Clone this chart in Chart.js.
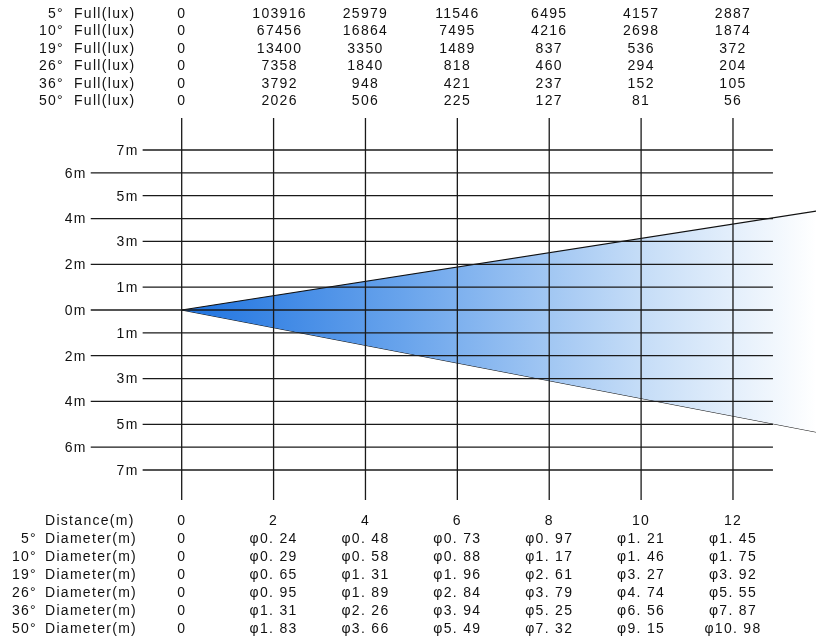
<!DOCTYPE html>
<html lang="en">
<head>
    <meta charset="UTF-8">
    <title>Beam Angle Chart</title>
    <script src="https://cdn.jsdelivr.net/npm/chart.js"></script>
    <style>
        html, body { margin: 0; padding: 0; background: #fff; }
        canvas { display: block; }
    </style>
</head>
<body>
    <canvas id="beamChart" width="816" height="638"></canvas>
    <script>
        // distances (m) of the columns
        const distances = [0, 2, 4, 6, 8, 10, 12];
        const beamAngles = ['5°', '10°', '19°', '26°', '36°', '50°'];

        // illuminance (lux) per angle, per distance
        const luxRows = [
            [0, 103916, 25979, 11546, 6495, 4157, 2887],
            [0, 67456, 16864, 7495, 4216, 2698, 1874],
            [0, 13400, 3350, 1489, 837, 536, 372],
            [0, 7358, 1840, 818, 460, 294, 204],
            [0, 3792, 948, 421, 237, 152, 105],
            [0, 2026, 506, 225, 127, 81, 56]
        ];

        // beam diameter (m) per angle, per distance
        const diameterRows = [
            ['0', 'φ0. 24', 'φ0. 48', 'φ0. 73', 'φ0. 97', 'φ1. 21', 'φ1. 45'],
            ['0', 'φ0. 29', 'φ0. 58', 'φ0. 88', 'φ1. 17', 'φ1. 46', 'φ1. 75'],
            ['0', 'φ0. 65', 'φ1. 31', 'φ1. 96', 'φ2. 61', 'φ3. 27', 'φ3. 92'],
            ['0', 'φ0. 95', 'φ1. 89', 'φ2. 84', 'φ3. 79', 'φ4. 74', 'φ5. 55'],
            ['0', 'φ1. 31', 'φ2. 26', 'φ3. 94', 'φ5. 25', 'φ6. 56', 'φ7. 87'],
            ['0', 'φ1. 83', 'φ3. 66', 'φ5. 49', 'φ7. 32', 'φ9. 15', 'φ10. 98']
        ];

        // height lines (m) and their labels
        const heights = [7, 6, 5, 4, 3, 2, 1, 0, -1, -2, -3, -4, -5, -6, -7];
        const heightLabels = ['7m', '6m', '5m', '4m', '3m', '2m', '1m', '0m', '1m', '2m', '3m', '4m', '5m', '6m', '7m'];

        // light cone outline: apex, upper and lower far edge (m)
        const coneApex = { x: 0, y: 0 };
        const coneTop = { x: 14, y: 4.39 };
        const coneBottom = { x: 14, y: -5.41 };

        const gridEnd = 12.87;
        const gridTop = 8.4;
        const gridBottom = -8.31;

        const lineColor = '#1a1a1a';
        const datasets = [];

        heights.forEach(h => {
            const start = (Math.abs(h) % 2 === 1) ? -0.85 : -1.98;
            datasets.push({
                data: [{ x: start, y: h }, { x: gridEnd, y: h }],
                borderColor: lineColor, borderWidth: 1.3, pointRadius: 0, order: 0
            });
        });

        distances.forEach(d => {
            datasets.push({
                data: [{ x: d, y: gridTop }, { x: d, y: gridBottom }],
                borderColor: lineColor, borderWidth: 1.3, pointRadius: 0, order: 0
            });
        });

        function coneGradient(context) {
            const chart = context.chart;
            const area = chart.chartArea;
            if (!area) return 'rgba(33,120,224,0.8)';
            const x0 = chart.scales.x.getPixelForValue(0);
            const g = chart.ctx.createLinearGradient(x0, 0, area.right, 0);
            g.addColorStop(0, 'rgb(30,115,224)');
            g.addColorStop(0.35, 'rgb(105,164,236)');
            g.addColorStop(0.72, 'rgb(196,220,247)');
            g.addColorStop(1, 'rgb(255,255,255)');
            return g;
        }

        datasets.push({
            data: [coneApex, coneTop],
            borderColor: '#111', borderWidth: 1.2, pointRadius: 0,
            fill: '+1', backgroundColor: coneGradient, order: 5
        });
        datasets.push({
            data: [coneApex, coneBottom],
            borderColor: '#111', borderWidth: 1.2, pointRadius: 0,
            fill: false, order: 5
        });

        const textPlugin = {
            id: 'tableText',
            afterDraw(chart) {
                const ctx = chart.ctx;
                const xs = chart.scales.x;
                const ys = chart.scales.y;
                ctx.save();
                ctx.fillStyle = '#111';
                ctx.font = '14px "Liberation Sans", Arial, sans-serif';
                ctx.letterSpacing = '1.3px';
                ctx.textBaseline = 'alphabetic';

                // top lux table
                luxRows.forEach((row, i) => {
                    const y = 17.5 + 17.5 * i;
                    ctx.textAlign = 'right';
                    ctx.fillText(beamAngles[i], 64, y);
                    ctx.textAlign = 'left';
                    ctx.fillText('Full(lux)', 74, y);
                    ctx.textAlign = 'center';
                    row.forEach((v, j) => {
                        const off = j === 1 ? 6 : 0;
                        ctx.fillText(String(v), xs.getPixelForValue(distances[j]) + off, y);
                    });
                });

                // bottom distance / diameter table
                ctx.textAlign = 'left';
                ctx.fillText('Distance(m)', 45, 525);
                ctx.textAlign = 'center';
                distances.forEach(d => ctx.fillText(String(d), xs.getPixelForValue(d), 525));
                diameterRows.forEach((row, i) => {
                    const y = 543 + 18 * i;
                    ctx.textAlign = 'right';
                    ctx.fillText(beamAngles[i], 37, y);
                    ctx.textAlign = 'left';
                    ctx.fillText('Diameter(m)', 45, y);
                    ctx.textAlign = 'center';
                    row.forEach((v, j) => ctx.fillText(v, xs.getPixelForValue(distances[j]), y));
                });

                // height labels
                ctx.textAlign = 'right';
                ctx.textBaseline = 'middle';
                heights.forEach((h, i) => {
                    const start = (Math.abs(h) % 2 === 1) ? -0.85 : -1.98;
                    ctx.fillText(heightLabels[i], xs.getPixelForValue(start) - 4, ys.getPixelForValue(h) + 1);
                });
                ctx.restore();
            }
        };

        new Chart(document.getElementById('beamChart').getContext('2d'), {
            type: 'scatter',
            data: { datasets: datasets },
            options: {
                responsive: false,
                animation: false,
                showLine: true,
                layout: { padding: 0 },
                plugins: { legend: { display: false }, tooltip: { enabled: false } },
                scales: {
                    x: { type: 'linear', display: false, min: -3.955, max: 13.807 },
                    y: { type: 'linear', display: false, min: -14.35, max: 13.5625 }
                }
            },
            plugins: [textPlugin]
        });
    </script>
</body>
</html>
